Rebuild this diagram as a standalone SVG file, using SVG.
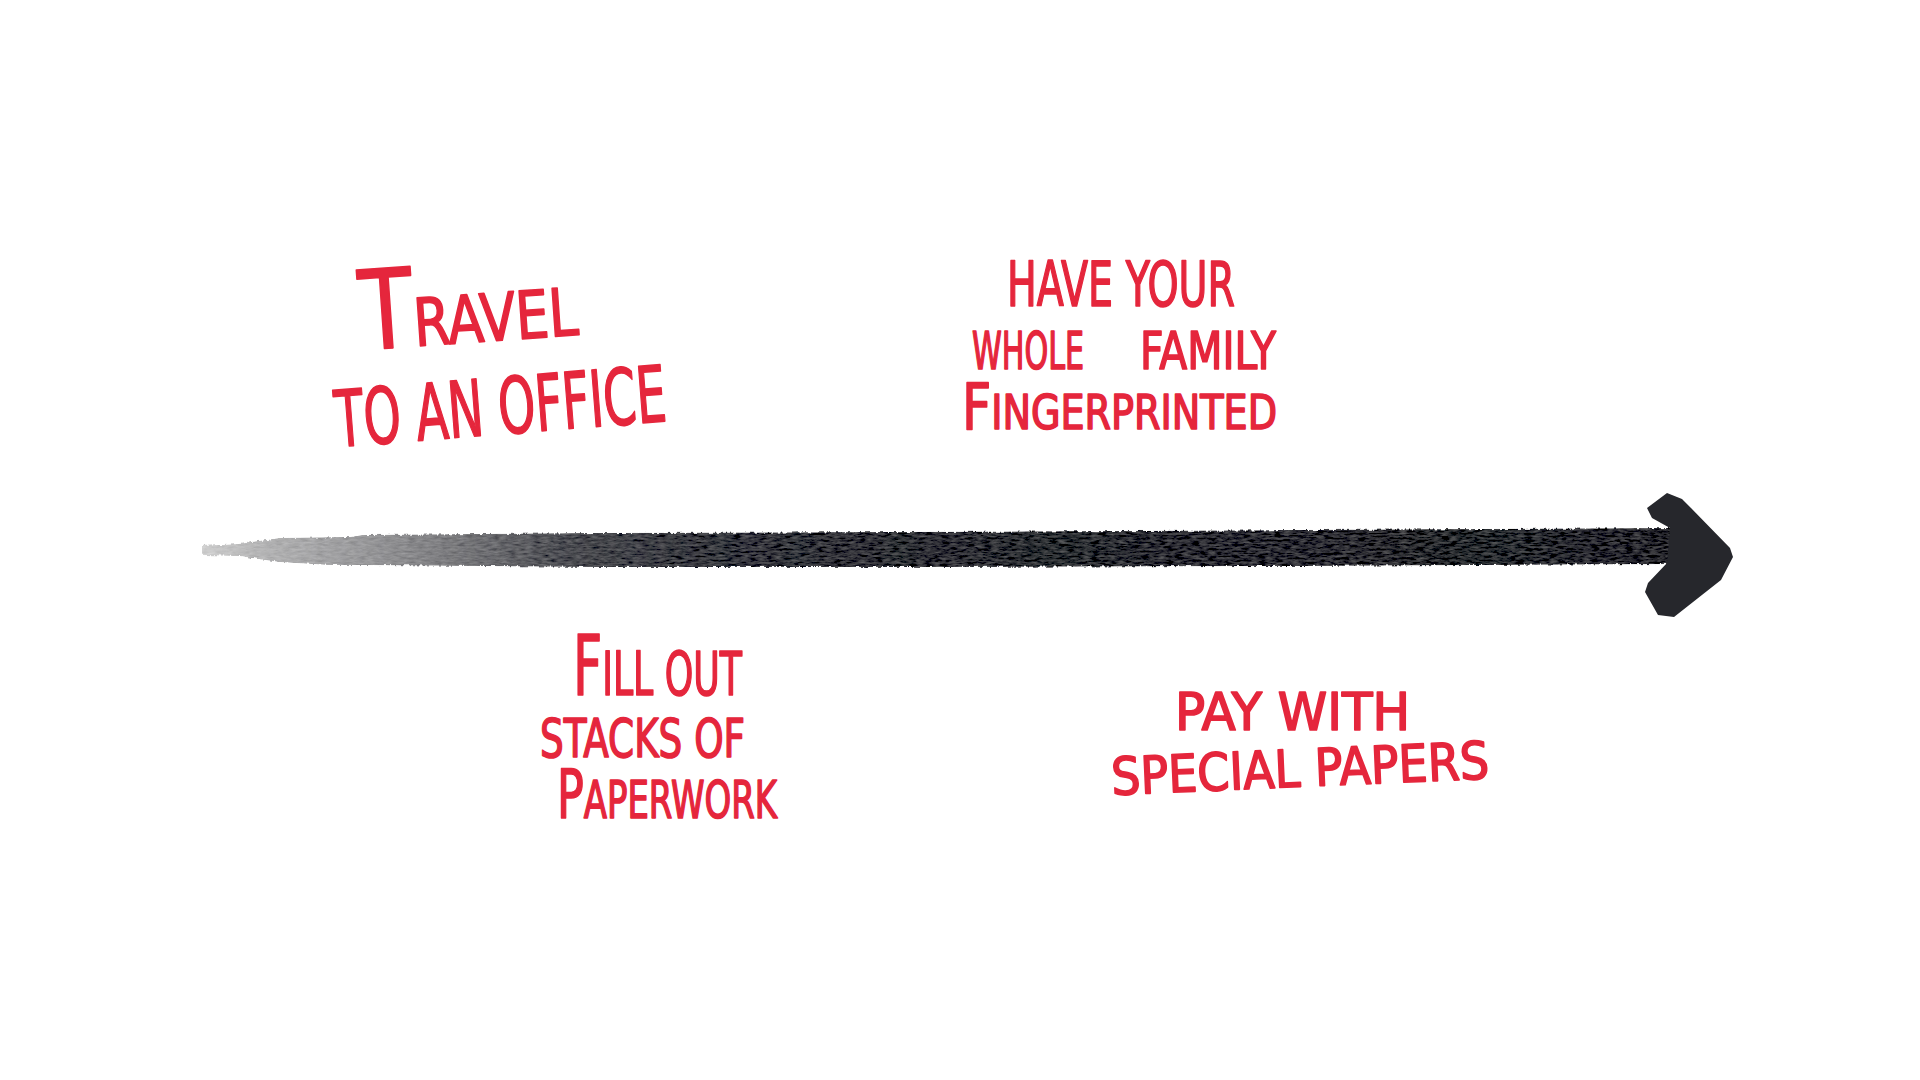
<svg xmlns="http://www.w3.org/2000/svg" width="1920" height="1080" viewBox="0 0 1920 1080">
  <style>
    .hand { font-family: "Liberation Sans Narrow", "DejaVu Sans Condensed", "Liberation Sans", sans-serif; font-weight: normal; fill: #e5263c; stroke: #e5263c; stroke-width: 1.6; stroke-linejoin: round; }
  </style>
  <defs>
    <linearGradient id="shaftGrad" x1="202" y1="0" x2="1700" y2="0" gradientUnits="userSpaceOnUse">
      <stop offset="0" stop-color="#cfcfcf"/>
      <stop offset="0.04" stop-color="#b3b3b4"/>
      <stop offset="0.10" stop-color="#9c9c9e"/>
      <stop offset="0.165" stop-color="#7c7c7f"/>
      <stop offset="0.24" stop-color="#4c4d52"/>
      <stop offset="0.33" stop-color="#37383e"/>
      <stop offset="0.5" stop-color="#2d2e34"/>
      <stop offset="1" stop-color="#26272c"/>
    </linearGradient>
    <filter id="rough" x="-2%" y="-60%" width="104%" height="220%">
      <feTurbulence type="fractalNoise" baseFrequency="0.3 0.08" numOctaves="2" seed="4" result="n"/>
      <feDisplacementMap in="SourceGraphic" in2="n" scale="4" xChannelSelector="R" yChannelSelector="G" result="d"/>
      <feTurbulence type="fractalNoise" baseFrequency="0.12 0.45" numOctaves="3" seed="9" result="n2"/>
      <feColorMatrix in="n2" type="matrix" values="0.33 0.33 0.33 0 0  0.33 0.33 0.33 0 0  0.33 0.33 0.33 0 0  0 0 0 0 1" result="g"/>
      <feComposite in="d" in2="g" operator="arithmetic" k1="0" k2="1" k3="0.32" k4="-0.16" result="t"/>
      <feComposite in="t" in2="d" operator="in"/>
    </filter>
  </defs>
  <rect width="1920" height="1080" fill="#ffffff"/>

  <g id="connectors">
    <path d="M202,546 Q200,550 203,555 L240,556 L252,558 L280,562 L330,565 L363,565 L600,567 L900,567 L1300,566 L1685,564 L1685,528 L1300,530 L900,532 L600,533 L363,535 L350,537 L280,538 L252,542 L240,544 Z" fill="url(#shaftGrad)" filter="url(#rough)"/>
    <path d="M1647,508 L1667,493 L1682,499 L1691,508 L1730,548 L1733,557 L1721,580 L1674,617 L1658,615 L1645,592 L1648,583 L1667,563 L1670,528 L1652,518 Z" fill="#26272c"/>
  </g>

  <g id="node-travel">
    <text class="hand" x="362" y="350" transform="rotate(-4 362 350)" textLength="218" lengthAdjust="spacingAndGlyphs"><tspan font-size="110">T</tspan><tspan font-size="66">RAVEL</tspan></text>
    <text class="hand" x="337" y="447" font-size="78" transform="rotate(-4.5 337 447)" textLength="332" lengthAdjust="spacingAndGlyphs">TO AN OFFICE</text>
  </g>

  <g id="node-fingerprint">
    <text class="hand" x="1007" y="306" font-size="62" textLength="228" lengthAdjust="spacingAndGlyphs">HAVE YOUR</text>
    <text class="hand" font-size="52" y="369"><tspan x="972" textLength="112" lengthAdjust="spacingAndGlyphs">WHOLE</tspan><tspan x="1140" textLength="136" lengthAdjust="spacingAndGlyphs">FAMILY</tspan></text>
    <text class="hand" x="962" y="429" textLength="315" lengthAdjust="spacingAndGlyphs"><tspan font-size="64">F</tspan><tspan font-size="48">INGERPRINTED</tspan></text>
  </g>

  <g id="node-paperwork">
    <text class="hand" x="573" y="695" textLength="169" lengthAdjust="spacingAndGlyphs"><tspan font-size="84">F</tspan><tspan font-size="60">ILL OUT</tspan></text>
    <text class="hand" x="540" y="757" font-size="54" textLength="205" lengthAdjust="spacingAndGlyphs">STACKS OF</text>
    <text class="hand" x="557" y="818" textLength="220" lengthAdjust="spacingAndGlyphs"><tspan font-size="68">P</tspan><tspan font-size="52">APERWORK</tspan></text>
  </g>

  <g id="node-pay">
    <text class="hand" x="1175" y="730" font-size="52" textLength="235" lengthAdjust="spacingAndGlyphs">PAY WITH</text>
    <text class="hand" x="1112" y="795" font-size="52" transform="rotate(-2.5 1112 795)" textLength="378" lengthAdjust="spacingAndGlyphs">SPECIAL PAPERS</text>
  </g>
</svg>
